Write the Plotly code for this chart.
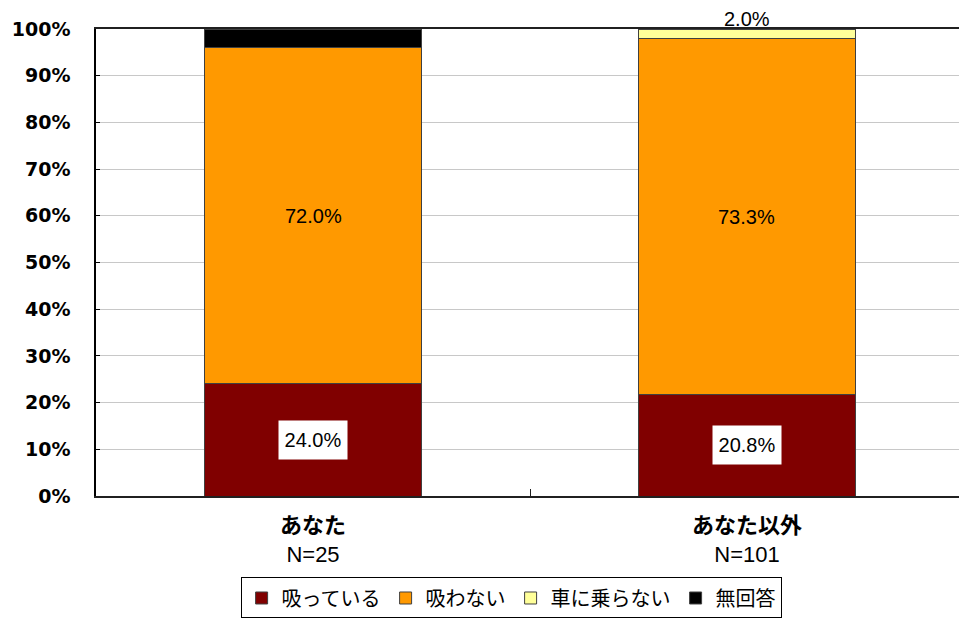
import plotly.graph_objects as go

categories = ["あなた", "あなた以外"]
n_labels = ["N=25", "N=101"]
series_names = ["吸っている", "吸わない", "車に乗らない", "無回答"]
sutteiru = [24.0, 20.8]
suwanai = [72.0, 73.3]
noranai = [0.0, 2.0]
mukaitou = [4.0, 0.0]
colors = ["#800000", "#FF9900", "#FFFF99", "#000000"]

series = [sutteiru, suwanai, noranai, mukaitou]

fig = go.Figure()
for name, vals, col in zip(series_names, series, colors):
    fig.add_trace(go.Bar(
        x=categories, y=vals, name=name,
        marker=dict(color=col, line=dict(color="#404040", width=1)),
        width=0.5,
    ))

label_font = dict(family="Liberation Sans, Arial", size=20, color="black")

# data labels computed from the data (normalised stacking)
annotations = []
for i, cat in enumerate(categories):
    total = sum(s[i] for s in series)
    base = 0.0
    for k, s in enumerate(series):
        v = s[i]
        h = v / total * 100
        mid = base + h / 2
        txt = f"{v:.1f}%"
        if k == 0:
            annotations.append(dict(x=cat, y=mid, text=txt, showarrow=False,
                                    bgcolor="white", borderpad=5, width=58, height=28,
                                    font=label_font))
        elif k == 1:
            annotations.append(dict(x=cat, y=mid, text=txt, showarrow=False, font=label_font))
        elif k == 2 and v > 0:
            annotations.append(dict(x=cat, y=100, yanchor="bottom", yshift=-3, text=txt,
                                    showarrow=False, font=label_font))
        base += h

ticktext = [
    f"<b>{c}</b><br><span style=\"font-family:'Liberation Sans', Arial\">{n}</span>"
    for c, n in zip(categories, n_labels)
]

fig.update_layout(
    template="none",
    barmode="stack",
    barnorm="percent",
    width=959, height=619,
    margin=dict(l=96, r=0, t=29, b=123, autoexpand=False),
    plot_bgcolor="white", paper_bgcolor="white",
    font=dict(family="Noto Sans CJK JP", color="black"),
    annotations=annotations,
    legend=dict(orientation="h", x=0.481, xanchor="center", y=-0.2184, yanchor="middle",
                bordercolor="black", borderwidth=1, bgcolor="white",
                font=dict(family="Noto Sans CJK JP", size=20, color="black"),
                traceorder="normal"),
    showlegend=True,
)
fig.update_xaxes(
    type="category", tickvals=categories, ticktext=ticktext,
    range=[-0.5, 1.4885], automargin=False,
    showline=True, linecolor="#202020", linewidth=1.5, mirror=True,
    ticks="inside", tickson="boundaries", ticklen=7, tickcolor="#202020",
    showgrid=False, zeroline=False,
    tickfont=dict(family="Noto Sans CJK JP", size=22, color="black"),
    ticklabelstandoff=9,
)
fig.update_yaxes(
    range=[0, 100], dtick=10, ticksuffix="%", automargin=False,
    showline=True, linecolor="black", linewidth=1.5,
    ticks="inside", ticklen=4, tickcolor="black",
    showgrid=True, gridcolor="#c8c8c8", gridwidth=1, zeroline=False,
    tickfont=dict(family="DejaVu Sans", size=19, color="black", weight="bold"),
    ticklabelstandoff=20,
)

fig.write_html(
    "out.html",
    config={"displayModeBar": False},
    post_script="document.body.style.margin='0';document.body.style.overflow='hidden';",
)
